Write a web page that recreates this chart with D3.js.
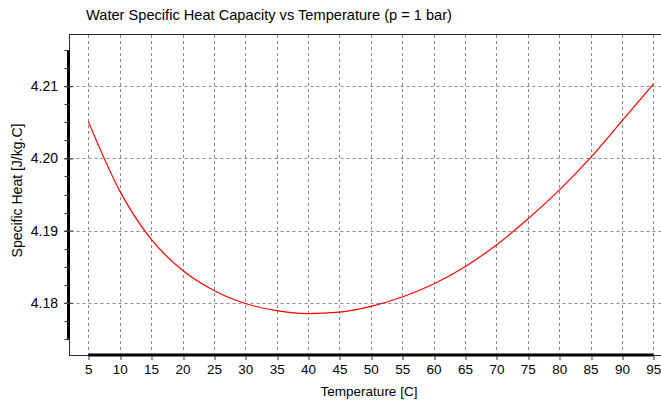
<!DOCTYPE html>
<html>
<head>
<meta charset="utf-8">
<script src="https://cdn.jsdelivr.net/npm/d3@7"></script>
<style>
  html, body { margin: 0; padding: 0; background: #fff; }
  svg { display: block; font-family: "Liberation Sans", Arial, sans-serif; }
</style>
</head>
<body>
<svg id="chart" width="661" height="406"></svg>
<script>
// ---- data ----
const temperatures = [5, 10, 15, 20, 25, 30, 35, 40, 45, 50, 55, 60, 65, 70, 75, 80, 85, 90, 95];
const specificHeat = [4.2051, 4.1955, 4.1888, 4.1845, 4.1817, 4.1799, 4.1789, 4.1785, 4.1787, 4.1795,
                      4.1808, 4.1826, 4.1850, 4.1880, 4.1916, 4.1956, 4.2001, 4.2052, 4.2103];
const xTicks = [5, 10, 15, 20, 25, 30, 35, 40, 45, 50, 55, 60, 65, 70, 75, 80, 85, 90, 95];
const yTicks = [4.18, 4.19, 4.20, 4.21];
const yMinorTicks = d3.range(0, 17).map(i => +(4.175 + i * 0.0025).toFixed(4));
const yRangeBar = [4.175, 4.215];
const xRangeBar = [5, 95];
const titleText = "Water Specific Heat Capacity vs Temperature (p = 1 bar)";
const xLabelText = "Temperature [C]";
const yLabelText = "Specific Heat [J/kg.C]";

// ---- layout ----
const W = 661, H = 406;
const pLeft = 69.5, pTop = 34, pBottom = 355;
const svg = d3.select("#chart");

const x = d3.scaleLinear().domain([2, 97]).range([pLeft, pLeft + 95 * 6.278]);
const y = d3.scaleLinear().domain([4.17276, 4.21724]).range([pBottom, pTop]);
const px = v => Math.round(v) + 0.5;

// gridlines
const grid = svg.append("g").attr("stroke", "#8a8a8a").attr("stroke-width", 1)
  .attr("stroke-dasharray", "3,3").attr("fill", "none");
grid.selectAll("line.v").data(xTicks).join("line").attr("class", "v")
  .attr("x1", d => px(x(d))).attr("x2", d => px(x(d)))
  .attr("y1", pTop + 1).attr("y2", pBottom);
grid.selectAll("line.h").data(yTicks).join("line").attr("class", "h")
  .attr("x1", pLeft + 1).attr("x2", W)
  .attr("y1", d => px(y(d))).attr("y2", d => px(y(d)));

// frame lines
const frame = svg.append("g").attr("stroke", "#2a2a2a").attr("stroke-width", 1);
frame.append("line").attr("x1", pLeft).attr("x2", W).attr("y1", pTop + 0.5).attr("y2", pTop + 0.5);
frame.append("line").attr("x1", pLeft).attr("x2", pLeft).attr("y1", pTop).attr("y2", pBottom + 1);
frame.append("line").attr("x1", pLeft).attr("x2", W).attr("y1", pBottom + 0.5).attr("y2", pBottom + 0.5);

// range bars (thick)
svg.append("rect")
  .attr("x", pLeft - 2.5).attr("width", 3)
  .attr("y", y(yRangeBar[1])).attr("height", y(yRangeBar[0]) - y(yRangeBar[1]))
  .attr("fill", "#000");
svg.append("rect")
  .attr("x", x(xRangeBar[0])).attr("width", x(xRangeBar[1]) - x(xRangeBar[0]))
  .attr("y", pBottom - 1.5).attr("height", 3)
  .attr("fill", "#000");

// x axis
const xAxis = d3.axisBottom(x).tickValues(xTicks).tickSize(4).tickPadding(4)
  .tickFormat(d3.format("d"));
const gx = svg.append("g").attr("transform", `translate(0,${pBottom + 1})`).call(xAxis);
gx.select(".domain").remove();
gx.selectAll(".tick line").attr("stroke", "#333")
  .attr("transform", function(d) { return `translate(${px(x(d)) - x(d)},0)`; });
gx.selectAll(".tick text").attr("font-size", "13.5px").attr("fill", "#000")
  .attr("font-family", "'Liberation Sans', Arial, sans-serif");

// y axis
const yAxis = d3.axisLeft(y).tickValues(yTicks).tickSize(5).tickPadding(6)
  .tickFormat(d3.format(".2f"));
const gy = svg.append("g").attr("transform", `translate(${pLeft - 0.5},0)`).call(yAxis);
gy.select(".domain").remove();
gy.selectAll(".tick line").attr("stroke", "#333").attr("x2", -5).attr("x1", 4);
gy.selectAll(".tick text").attr("font-size", "14px").attr("fill", "#000")
  .attr("font-family", "'Liberation Sans', Arial, sans-serif").attr("x", -11);

// y minor ticks
svg.append("g").attr("stroke", "#333").selectAll("line").data(yMinorTicks).join("line")
  .attr("x1", pLeft - 5).attr("x2", pLeft)
  .attr("y1", d => px(y(d))).attr("y2", d => px(y(d)));

// curve
const line = d3.line().x((d, i) => x(temperatures[i])).y(d => y(d)).curve(d3.curveMonotoneX);
svg.append("path").datum(specificHeat)
  .attr("d", line).attr("fill", "none").attr("stroke", "#ff0000").attr("stroke-width", 1.2);

// title and labels
svg.append("text").attr("x", 269).attr("y", 20).attr("text-anchor", "middle")
  .attr("font-size", "14.5px").attr("fill", "#000")
  .attr("textLength", 366).attr("lengthAdjust", "spacingAndGlyphs").text(titleText);
svg.append("text").attr("x", 369).attr("y", 396).attr("text-anchor", "middle")
  .attr("font-size", "13.5px").attr("fill", "#000").text(xLabelText);
svg.append("text").attr("transform", "translate(22,190.5) rotate(-90)")
  .attr("text-anchor", "middle").attr("font-size", "14px").attr("fill", "#000")
  .text(yLabelText);
</script>
</body>
</html>
